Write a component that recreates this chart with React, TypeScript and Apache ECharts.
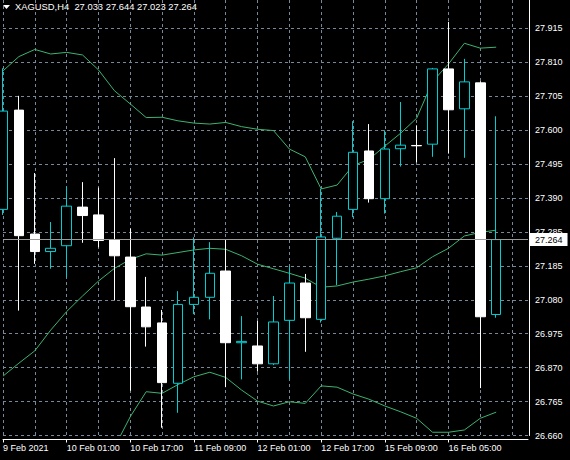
import React, { useEffect, useRef } from 'react';
import * as echarts from 'echarts';

const SYMBOL = 'XAGUSD';
const TIMEFRAME = 'H4';

const CATEGORIES = [
  '9 Feb 2021', '9 Feb 13:00', '9 Feb 17:00', '9 Feb 21:00',
  '10 Feb 01:00', '10 Feb 05:00', '10 Feb 09:00', '10 Feb 13:00',
  '10 Feb 17:00', '10 Feb 21:00', '11 Feb 01:00', '11 Feb 05:00',
  '11 Feb 09:00', '11 Feb 13:00', '11 Feb 17:00', '11 Feb 21:00',
  '12 Feb 01:00', '12 Feb 05:00', '12 Feb 09:00', '12 Feb 13:00',
  '12 Feb 17:00', '12 Feb 21:00', '15 Feb 01:00', '15 Feb 05:00',
  '15 Feb 09:00', '15 Feb 13:00', '15 Feb 17:00', '16 Feb 01:00',
  '16 Feb 05:00', '16 Feb 09:00', '16 Feb 13:00', '16 Feb 17:00',
  '16 Feb 21:00', '17 Feb 01:00',
];

const OPEN = [27.357, 27.663, 27.281, 27.227, 27.245, 27.364, 27.340, 27.263, 27.210, 27.056, 27.007, 26.821, 27.064, 27.086, 27.167, 26.946, 26.936, 26.881, 27.015, 27.130, 27.018, 27.268, 27.357, 27.537, 27.390, 27.544, 27.554, 27.558, 27.790, 27.667, 27.747, 27.033];
const CLOSE = [27.660, 27.276, 27.227, 27.237, 27.367, 27.338, 27.261, 27.214, 27.057, 26.995, 26.823, 27.064, 27.086, 27.160, 26.946, 26.950, 26.881, 27.010, 27.130, 27.023, 27.272, 27.336, 27.533, 27.390, 27.543, 27.555, 27.553, 27.790, 27.664, 27.750, 27.026, 27.264];
const HIGH = [27.792, 27.707, 27.469, 27.318, 27.427, 27.441, 27.424, 27.515, 27.298, 27.149, 27.047, 27.105, 27.271, 27.256, 27.263, 27.028, 27.013, 27.090, 27.183, 27.158, 27.420, 27.349, 27.629, 27.620, 27.601, 27.688, 27.616, 27.793, 27.935, 27.821, 27.752, 27.644];
const LOW = [27.340, 27.045, 27.189, 27.174, 27.148, 27.254, 27.240, 27.076, 26.798, 26.934, 26.684, 26.730, 27.034, 27.018, 26.809, 26.833, 26.857, 26.877, 26.833, 26.918, 27.008, 27.124, 27.333, 27.378, 27.344, 27.489, 27.502, 27.519, 27.529, 27.516, 26.806, 27.023];

const BB_UPPER = [27.784, 27.828, 27.850, 27.836, 27.841, 27.833, 27.787, 27.723, 27.682, 27.640, 27.641, 27.630, 27.623, 27.620, 27.625, 27.612, 27.604, 27.600, 27.543, 27.519, 27.420, 27.432, 27.492, 27.511, 27.552, 27.592, 27.638, 27.751, 27.805, 27.869, 27.854, 27.857];
const BB_MIDDLE = [26.843, 26.883, 26.921, 26.985, 27.042, 27.090, 27.136, 27.175, 27.203, 27.220, 27.216, 27.224, 27.232, 27.237, 27.234, 27.214, 27.188, 27.174, 27.160, 27.145, 27.117, 27.121, 27.133, 27.142, 27.152, 27.165, 27.177, 27.211, 27.237, 27.275, 27.286, 27.293];
const BB_LOWER: (number | string)[] = ['-', '-', '-', '-', '-', '-', '-', 26.623, 26.718, 26.795, 26.790, 26.817, 26.841, 26.855, 26.839, 26.800, 26.766, 26.751, 26.764, 26.759, 26.813, 26.809, 26.788, 26.772, 26.751, 26.733, 26.713, 26.670, 26.670, 26.677, 26.713, 26.732];

const Y_TICK_LABELS = ['26.660', '26.765', '26.870', '26.975', '27.080', '27.185', '27.285', '27.390', '27.495', '27.600', '27.705', '27.810', '27.915'];

const Y_MIN = 26.66;
const Y_STEP = Y_MIN / 255;
const Y_MAX = Y_MIN + 12.84 * Y_STEP;

const FONT = "'Liberation Sans', Arial, sans-serif";
const UP_COLOR = '#00ced1';
const DOWN_COLOR = '#ffffff';
const BAND_COLOR = '#3cb371';
const GRID_COLOR = '#778899';

export default function App() {
  const ref = useRef<HTMLDivElement>(null);

  useEffect(() => {
    if (!ref.current) return;
    const chart = echarts.init(ref.current, undefined, { renderer: 'svg' });
    const n = OPEN.length;
    const last = n - 1;
    const candles = OPEN.map((o, i) => [o, CLOSE[i], LOW[i], HIGH[i]]);
    const header = `${SYMBOL},${TIMEFRAME}  ${OPEN[last].toFixed(3)} ${HIGH[last].toFixed(3)} ${LOW[last].toFixed(3)} ${CLOSE[last].toFixed(3)}`;

    const option: any = {
      animation: false,
      backgroundColor: '#000000',
      grid: { left: 0, right: 42, top: 0, bottom: 24.5, containLabel: false },
      xAxis: {
        type: 'category',
        data: CATEGORIES,
        boundaryGap: false,
        offset: 4,
        axisLine: { show: true, onZero: false, lineStyle: { color: '#ffffff', width: 1 } },
        axisTick: {
          show: true,
          length: 3,
          interval: (i: number) => i % 4 === 0 && i < n,
          lineStyle: { color: '#ffffff' },
        },
        axisLabel: {
          show: true,
          interval: (i: number) => i % 4 === 0 && i < n,
          align: 'left',
          margin: 4,
          color: '#ffffff',
          fontSize: 9,
          fontFamily: FONT,
        },
        splitLine: {
          show: true,
          interval: (i: number) => i % 2 === 0,
          lineStyle: { color: GRID_COLOR, type: [3, 3], width: 1 },
        },
      },
      yAxis: {
        type: 'value',
        position: 'right',
        min: Y_MIN,
        max: Y_MAX,
        interval: Y_STEP,
        offset: 1,
        scale: true,
        axisLine: { show: true, lineStyle: { color: '#ffffff', width: 1 } },
        axisTick: { show: false },
        axisLabel: {
          show: true,
          margin: 6,
          color: '#ffffff',
          fontSize: 9,
          fontFamily: FONT,
          showMaxLabel: false,
          formatter: (v: number) => {
            const k = Math.round((v - Y_MIN) / Y_STEP);
            if (Math.abs(v - (Y_MIN + k * Y_STEP)) > Y_STEP * 0.01) return '';
            return Y_TICK_LABELS[k] ?? '';
          },
        },
        splitLine: {
          show: true,
          showMaxLine: false,
          lineStyle: { color: GRID_COLOR, type: [3, 3], width: 1 },
        },
      },
      series: [
        {
          type: 'line',
          data: BB_UPPER,
          showSymbol: false,
          silent: true,
          clip: true,
          lineStyle: { color: BAND_COLOR, width: 1 },
          z: 1,
        },
        {
          type: 'line',
          data: BB_MIDDLE,
          showSymbol: false,
          silent: true,
          clip: true,
          lineStyle: { color: BAND_COLOR, width: 1 },
          z: 1,
        },
        {
          type: 'line',
          data: BB_LOWER,
          showSymbol: false,
          silent: true,
          clip: true,
          lineStyle: { color: BAND_COLOR, width: 1 },
          z: 1,
        },
        {
          type: 'candlestick',
          data: candles,
          barWidth: 10,
          clip: true,
          silent: true,
          z: 2,
          itemStyle: {
            color: '#000000',
            borderColor: UP_COLOR,
            color0: DOWN_COLOR,
            borderColor0: DOWN_COLOR,
            borderWidth: 1,
          },
          markLine: {
            silent: true,
            symbol: ['none', 'none'],
            precision: 3,
            animation: false,
            lineStyle: { color: '#9a9a9a', width: 1, type: 'solid' },
            label: {
              show: true,
              position: 'end',
              distance: 2,
              formatter: () => CLOSE[last].toFixed(3),
              backgroundColor: '#ffffff',
              color: '#000000',
              fontSize: 9,
              fontFamily: FONT,
              lineHeight: 10,
              padding: [2, 5, 1, 5],
            },
            data: [{ yAxis: CLOSE[last] }],
            z: 5,
          },
        },
      ],
      graphic: [
        {
          type: 'polygon',
          shape: { points: [[3, 5], [10, 5], [6.5, 9]] },
          style: { fill: '#ffffff' },
          silent: true,
        },
        {
          type: 'text',
          left: 15,
          top: 2,
          silent: true,
          style: { text: header, fill: '#ffffff', fontSize: 9.4, fontFamily: FONT },
        },
      ],
    };

    chart.setOption(option);
    return () => chart.dispose();
  }, []);

  return (
    <div
      ref={ref}
      style={{ position: 'absolute', left: 0, top: 0, width: 570, height: 460, background: '#000' }}
    />
  );
}
